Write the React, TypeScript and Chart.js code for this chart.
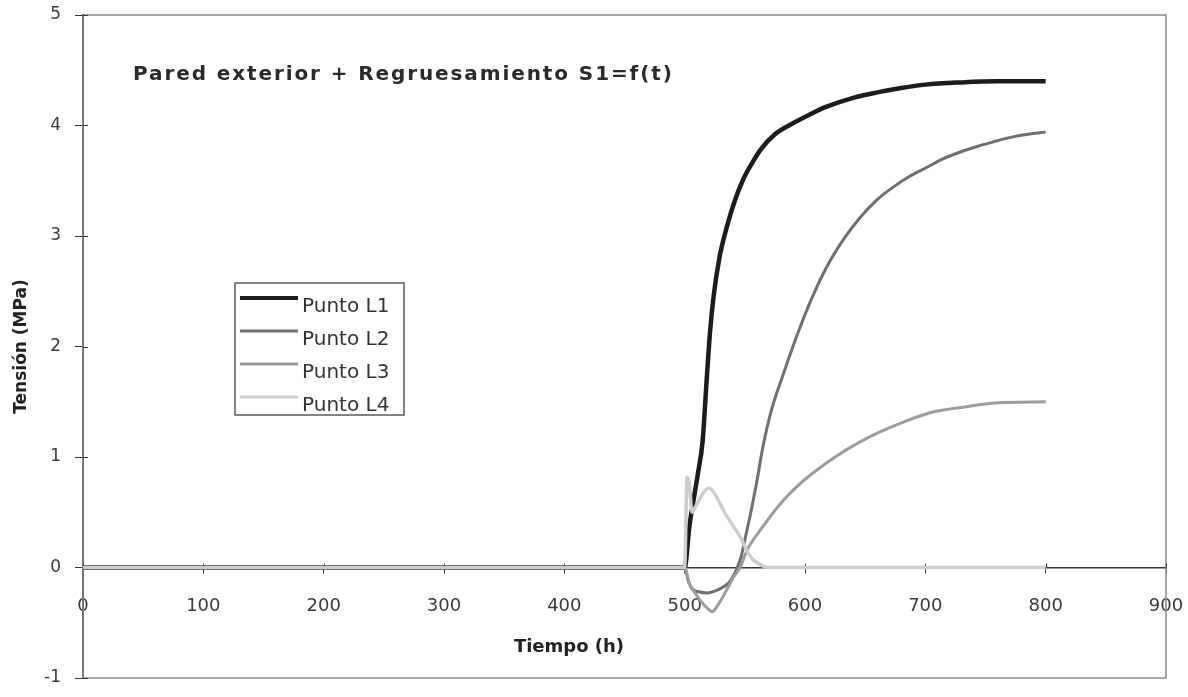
import React, { useEffect, useRef } from "react";
import { Chart, registerables } from "chart.js";

Chart.register(...registerables);

const chartTitle = "Pared exterior + Regruesamiento S1=f(t)";
const xAxisTitle = "Tiempo (h)";
const yAxisTitle = "Tensión (MPa)";
const xTicks = [0, 100, 200, 300, 400, 500, 600, 700, 800, 900];
const yTicks = [-1, 0, 1, 2, 3, 4, 5];
const seriesLabels = ["Punto L1", "Punto L2", "Punto L3", "Punto L4"];
const seriesColors = ["#1c1c1c", "#6f6f6f", "#9c9c9c", "#cdcdcd"];
const seriesWidths = [4.5, 3, 3, 3.5];

const l1Time = [0, 500, 504, 508, 511, 515, 518, 521, 524, 529, 535, 542, 549, 556, 563, 575, 590, 604, 618, 640, 660, 680, 700, 730, 760, 800];
const l1Values = [0, 0, 0.38, 0.65, 0.85, 1.15, 1.65, 2.12, 2.45, 2.81, 3.08, 3.33, 3.52, 3.66, 3.78, 3.92, 4.02, 4.1, 4.17, 4.25, 4.3, 4.34, 4.37, 4.39, 4.4, 4.4];

const l2Time = [0, 500, 503, 506, 512, 519, 526, 533, 538, 543, 547, 551, 555, 560, 565, 572, 582, 593, 605, 618, 632, 646, 660, 673, 687, 701, 715, 729, 743, 756, 770, 785, 800];
const l2Values = [0, 0, -0.12, -0.19, -0.22, -0.23, -0.21, -0.17, -0.12, -0.02, 0.1, 0.3, 0.5, 0.78, 1.09, 1.42, 1.75, 2.09, 2.42, 2.72, 2.97, 3.17, 3.33, 3.44, 3.54, 3.62, 3.7, 3.76, 3.81, 3.85, 3.89, 3.92, 3.94];

const l3Time = [0, 500, 504, 508, 513, 519, 523, 527, 532, 537, 541, 546, 552, 565, 579, 593, 621, 648, 676, 704, 731, 760, 800];
const l3Values = [0, 0, -0.15, -0.22, -0.3, -0.37, -0.4, -0.35, -0.26, -0.16, -0.08, 0, 0.16, 0.37, 0.57, 0.73, 0.97, 1.15, 1.29, 1.4, 1.45, 1.49, 1.5];

const l4Time = [0, 500, 502, 504, 506, 509, 514, 520, 526, 533, 540, 546, 551, 556, 562, 570, 580, 800];
const l4Values = [0, 0, 0.82, 0.75, 0.5, 0.55, 0.65, 0.72, 0.65, 0.5, 0.38, 0.28, 0.17, 0.08, 0.03, 0, 0, 0];

const FONT = "'DejaVu Sans', Arial, sans-serif";

function toPoints(t: number[], v: number[]) {
  return t.map((x, i) => ({ x, y: v[i] }));
}

const framePlugin = {
  id: "frame",
  beforeDatasetsDraw(chart: any) {
    const { ctx, chartArea, scales } = chart;
    ctx.save();
    ctx.strokeStyle = "#8a8a8a";
    ctx.lineWidth = 1.5;
    ctx.strokeRect(chartArea.left, chartArea.top, chartArea.right - chartArea.left, chartArea.bottom - chartArea.top);
    // inner half of the crossing tick marks
    ctx.strokeStyle = "#333333";
    ctx.lineWidth = 1;
    ctx.beginPath();
    scales.y.ticks.forEach((t: any) => {
      const py = Math.round(scales.y.getPixelForValue(t.value)) + 0.5;
      ctx.moveTo(chartArea.left, py);
      ctx.lineTo(chartArea.left + 5, py);
    });
    const y0 = scales.y.getPixelForValue(0);
    scales.x.ticks.forEach((t: any) => {
      const px = Math.round(scales.x.getPixelForValue(t.value)) + 0.5;
      ctx.moveTo(px, y0);
      ctx.lineTo(px, y0 - 4);
    });
    ctx.stroke();
    ctx.restore();
  },
};

const overlayPlugin = {
  id: "overlay",
  afterDatasetsDraw(chart: any) {
    const { ctx, chartArea } = chart;
    ctx.save();
    // title inside plot area
    ctx.fillStyle = "#2a2a2a";
    ctx.font = `bold 20px ${FONT}`;
    ctx.textBaseline = "alphabetic";
    ctx.textAlign = "left";
    const targetW = 539;
    const w = ctx.measureText(chartTitle).width;
    const ls = Math.max(0, (targetW - w) / (chartTitle.length - 1));
    (ctx as any).letterSpacing = ls.toFixed(2) + "px";
    ctx.fillText(chartTitle, chartArea.left + 50, chartArea.top + 65);
    (ctx as any).letterSpacing = "0px";

    // x axis title (offset left of centre, as in the original)
    ctx.fillStyle = "#222222";
    ctx.font = `bold 18px ${FONT}`;
    ctx.textAlign = "center";
    ctx.textBaseline = "middle";
    ctx.fillText(xAxisTitle, chartArea.left + 486, chartArea.top + 632);

    // legend box
    ctx.textAlign = "left";
    const bx = chartArea.left + 152;
    const by = chartArea.top + 268;
    const bw = 169;
    const bh = 132;
    ctx.fillStyle = "#ffffff";
    ctx.fillRect(bx, by, bw, bh);
    ctx.save();
    ctx.beginPath();
    ctx.rect(bx, by, bw, bh);
    ctx.clip();
    chart.data.datasets.forEach((ds: any, i: number) => {
      const ry = by + 15 + i * 33;
      ctx.strokeStyle = ds.borderColor;
      ctx.lineWidth = i === 0 ? 4 : 3;
      ctx.beginPath();
      ctx.moveTo(bx + 5, ry);
      ctx.lineTo(bx + 63, ry);
      ctx.stroke();
      ctx.fillStyle = "#333333";
      ctx.font = `20px ${FONT}`;
      ctx.textBaseline = "alphabetic";
      ctx.fillText(ds.label, bx + 67, ry + 14);
    });
    ctx.restore();
    ctx.strokeStyle = "#5a5a5a";
    ctx.lineWidth = 1.5;
    ctx.strokeRect(bx, by, bw, bh);
    ctx.restore();
  },
};

export default function App() {
  const ref = useRef<HTMLCanvasElement | null>(null);

  useEffect(() => {
    if (!ref.current) return;
    const series = [
      toPoints(l1Time, l1Values),
      toPoints(l2Time, l2Values),
      toPoints(l3Time, l3Values),
      toPoints(l4Time, l4Values),
    ];
    const chart = new Chart(ref.current, {
      type: "line",
      data: {
        datasets: series.map((pts, i) => ({
          label: seriesLabels[i],
          data: pts,
          borderColor: seriesColors[i],
          backgroundColor: seriesColors[i],
          borderWidth: seriesWidths[i],
          pointRadius: 0,
          fill: false,
          order: 3 - i,
          cubicInterpolationMode: "monotone" as const,
        })),
      },
      options: {
        animation: false,
        responsive: true,
        maintainAspectRatio: false,
        layout: { padding: { left: 0, top: 15, right: 22, bottom: 19 } },
        plugins: {
          legend: { display: false },
          tooltip: { enabled: false },
          title: { display: false },
        },
        scales: {
          x: {
            type: "linear",
            position: { y: 0 } as any,
            min: 0,
            max: 900,
            afterBuildTicks: (s: any) => {
              s.ticks = xTicks.map((v) => ({ value: v }));
            },
            afterFit: (s: any) => {
              s.paddingLeft = 0;
              s.paddingRight = 0;
              s.paddingTop = 0;
              s.paddingBottom = 0;
            },
            grid: { drawOnChartArea: false, drawTicks: true, tickLength: 5, color: "#333333", lineWidth: 1 },
            border: { display: true, color: "#3a3a3a", width: 1.5 },
            ticks: {
              padding: 23,
              maxRotation: 0,
              autoSkip: false,
              color: "#3a3a3a",
              font: { family: FONT, size: 18 },
            },
            title: { display: false },
          },
          y: {
            type: "linear",
            position: "left",
            min: -1,
            max: 5,
            afterBuildTicks: (s: any) => {
              s.ticks = yTicks.map((v) => ({ value: v }));
            },
            afterFit: (s: any) => {
              s.width = 83;
              s.paddingTop = 0;
              s.paddingBottom = 0;
              s.paddingLeft = 0;
              s.paddingRight = 0;
            },
            grid: { drawOnChartArea: false, drawTicks: true, tickLength: 8, color: "#333333", lineWidth: 1 },
            border: { display: true, color: "#3a3a3a", width: 2 },
            ticks: {
              padding: 14,
              color: "#3a3a3a",
              font: { family: FONT, size: 17 },
            },
            title: {
              display: true,
              text: yAxisTitle,
              color: "#222222",
              font: { family: FONT, size: 17, weight: "bold" },
              padding: { top: 11, bottom: 0 },
            },
          },
        },
      },
      plugins: [framePlugin, overlayPlugin],
    });
    return () => chart.destroy();
  }, []);

  return (
    <div style={{ position: "fixed", left: 0, top: 0, width: 1188, height: 697, background: "#ffffff" }}>
      <canvas ref={ref} />
    </div>
  );
}
